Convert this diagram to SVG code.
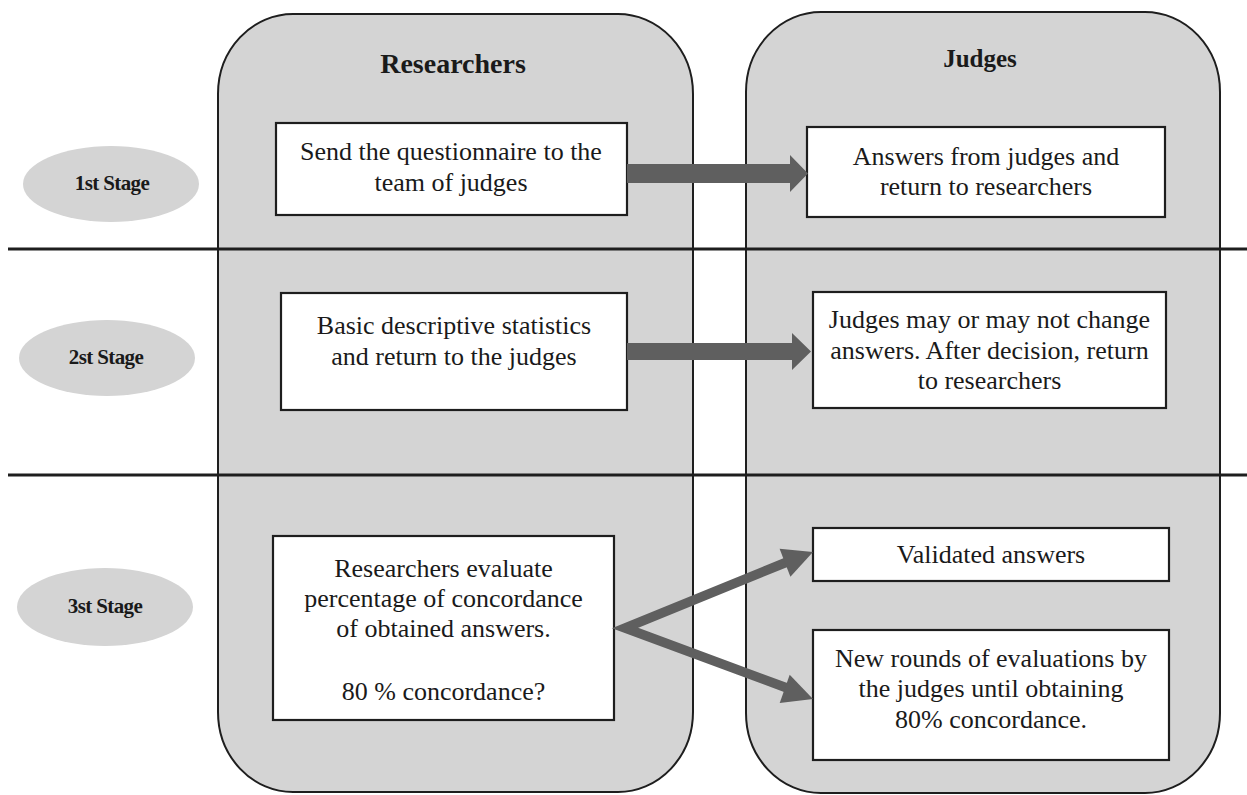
<svg xmlns="http://www.w3.org/2000/svg" width="1247" height="795" viewBox="0 0 1247 795">
  <style>
    .col { fill: #d4d4d4; stroke: #1e1e1e; stroke-width: 2; }
    .stage { fill: #d4d4d4; stroke: none; }
    .box { fill: #ffffff; stroke: #1e1e1e; stroke-width: 2.2; }
    .sep { stroke: #1e1e1e; stroke-width: 3; }
    .t { font-family: "Liberation Serif", "Times New Roman", serif; font-size: 26px; fill: #1a1a1a; text-anchor: middle; }
    .h { font-family: "Liberation Serif", "Times New Roman", serif; font-weight: bold; fill: #1a1a1a; text-anchor: middle; }
    .s { font-family: "Liberation Serif", "Times New Roman", serif; font-weight: bold; font-size: 21px; letter-spacing: -0.6px; fill: #1a1a1a; text-anchor: middle; }
    .arr { fill: #5f5f5f; }
    .arrl { fill: none; stroke: #5f5f5f; stroke-width: 9.5; stroke-linejoin: miter; stroke-miterlimit: 10; }
  </style>
  <rect width="1247" height="795" fill="#ffffff"/>

  <g id="lane-researchers">
    <rect class="col" x="218" y="14" width="475" height="778" rx="75" ry="80"/>
    <text class="h" x="453" y="73" font-size="28">Researchers</text>
  </g>
  <g id="lane-judges">
    <rect class="col" x="746" y="12" width="474" height="781" rx="75" ry="80"/>
    <text class="h" x="980" y="67" font-size="25">Judges</text>
  </g>

  <g id="separators">
    <line class="sep" x1="8" y1="249" x2="1247" y2="249"/>
    <line class="sep" x1="8" y1="475" x2="1247" y2="475"/>
  </g>

  <g id="stage1">
    <ellipse class="stage" cx="111" cy="184" rx="88" ry="38"/>
    <text class="s" x="112" y="190">1st Stage</text>
  </g>
  <g id="stage2">
    <ellipse class="stage" cx="107" cy="358" rx="88" ry="38"/>
    <text class="s" x="106" y="364">2st Stage</text>
  </g>
  <g id="stage3">
    <ellipse class="stage" cx="105" cy="607" rx="88" ry="39"/>
    <text class="s" x="105" y="613">3st Stage</text>
  </g>

  <g id="node-send">
    <rect class="box" x="276" y="123" width="351" height="92"/>
    <text class="t" x="451" y="160">Send the questionnaire to the</text>
    <text class="t" x="451" y="191">team of judges</text>
  </g>
  <g id="node-answers">
    <rect class="box" x="807" y="127" width="358" height="90"/>
    <text class="t" x="986" y="165">Answers from judges and</text>
    <text class="t" x="986" y="195">return to researchers</text>
  </g>
  <g id="node-stats">
    <rect class="box" x="281" y="293" width="346" height="117"/>
    <text class="t" x="454" y="334">Basic descriptive statistics</text>
    <text class="t" x="454" y="365">and return to the judges</text>
  </g>
  <g id="node-change">
    <rect class="box" x="813" y="292" width="353" height="116"/>
    <text class="t" x="989.5" y="328">Judges may or may not change</text>
    <text class="t" x="989.5" y="359">answers. After decision, return</text>
    <text class="t" x="989.5" y="389">to researchers</text>
  </g>
  <g id="node-evaluate">
    <rect class="box" x="273" y="536" width="341" height="184"/>
    <text class="t" x="443.5" y="577">Researchers evaluate</text>
    <text class="t" x="443.5" y="607">percentage of concordance</text>
    <text class="t" x="443.5" y="637">of obtained answers.</text>
    <text class="t" x="443.5" y="700">80 % concordance?</text>
  </g>
  <g id="node-validated">
    <rect class="box" x="813" y="528" width="356" height="53"/>
    <text class="t" x="991" y="563">Validated answers</text>
  </g>
  <g id="node-rounds">
    <rect class="box" x="813" y="630" width="356" height="130"/>
    <text class="t" x="991" y="667">New rounds of evaluations by</text>
    <text class="t" x="991" y="697">the judges until obtaining</text>
    <text class="t" x="991" y="728">80% concordance.</text>
  </g>

  <g id="connectors">
    <polygon class="arr" points="627,164 790,164 790,155 808,173.5 790,192 790,183 627,183"/>
    <polygon class="arr" points="627,343 792,343 792,333 811,351.5 792,370 792,360 627,360"/>
    <polyline class="arrl" points="787,562 625,628 787,688"/>
    <polygon class="arr" points="813,552 790.4,576.7 779.6,548.7"/>
    <polygon class="arr" points="813,699 779.7,703 789.7,674.8"/>
  </g>
</svg>
